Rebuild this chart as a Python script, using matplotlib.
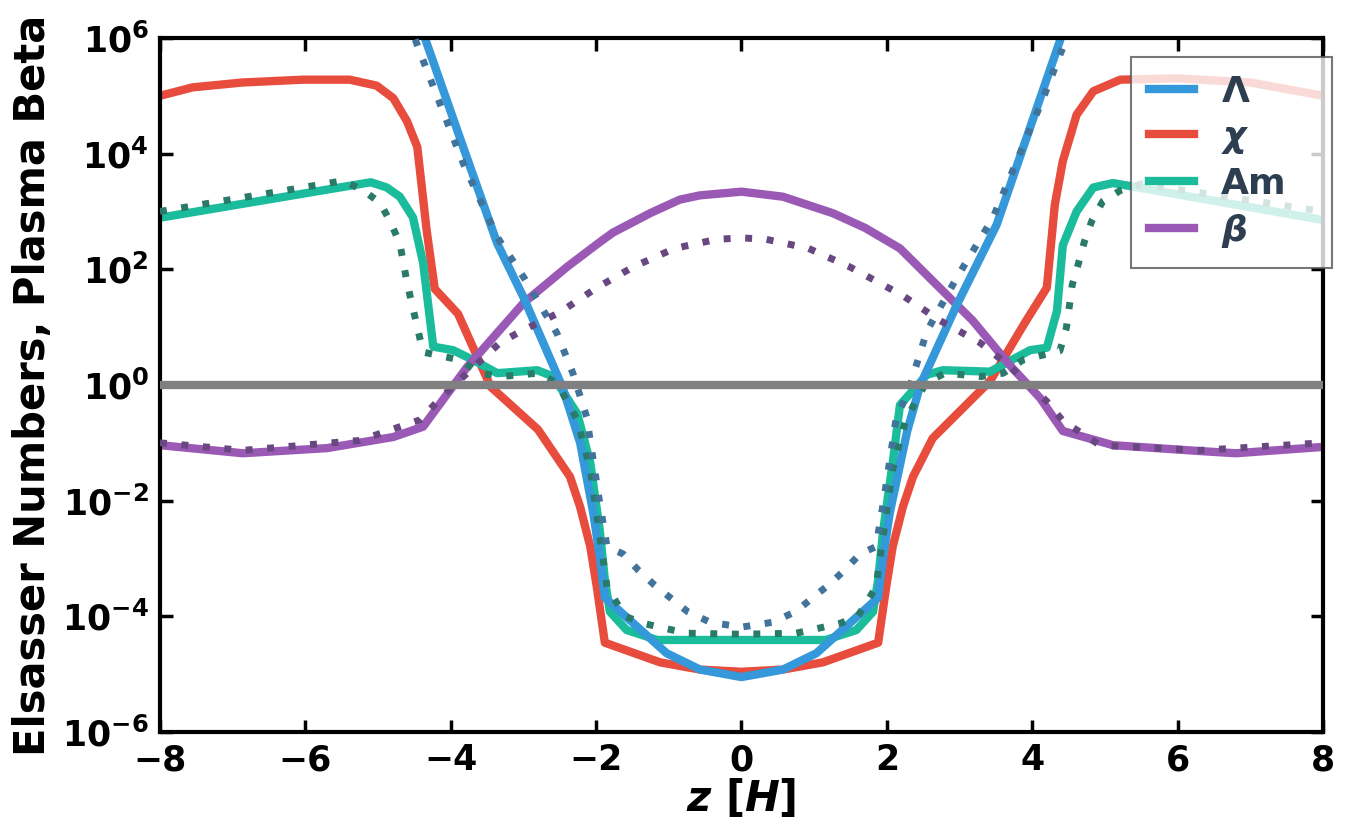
import numpy as np
import matplotlib
matplotlib.use("Agg")
import matplotlib.pyplot as plt
from matplotlib.ticker import FixedLocator, NullLocator

plt.rcParams['font.family'] = 'DejaVu Sans'
plt.rcParams['font.weight'] = 'bold'
plt.rcParams['mathtext.fontset'] = 'custom'
plt.rcParams['mathtext.rm'] = 'DejaVu Sans:bold'
plt.rcParams['mathtext.bf'] = 'DejaVu Sans:bold'
plt.rcParams['mathtext.it'] = 'DejaVu Sans:bold:italic'
plt.rcParams['mathtext.default'] = 'it'

# Lambda (Ohm) - solid and dotted
z_lam = [-4.6, -4.33, -3.78, -3.36, -3.0, -2.46, -2.22, -2.04, -1.95, -1.88, -1.03, -0.57, 0.0,
         0.57, 1.03, 1.88, 1.95, 2.04, 2.28, 2.46, 2.96, 3.51, 4.38, 4.6]
lam = [8e6, 8.1e5, 8.7e3, 2.8e2, 33, 0.9, 0.1, 6.2e-3, 1.1e-3, 2.1e-4, 2.3e-5, 1.2e-5, 8.9e-6,
       1.2e-5, 2.3e-5, 2.1e-4, 1.1e-3, 6.2e-3, 0.16, 1.0, 24, 5.9e2, 8.9e5, 8e6]
z_lam_d = [-4.7, -4.42, -3.83, -3.36, -3.0, -2.54, -2.32, -2.13, -2.04, -1.95, -1.85, -1.63, -1.42,
           -1.2, -0.74, -0.43, 0.0, 0.43, 0.74, 1.2, 1.42, 1.63, 1.85, 1.95, 2.04, 2.13, 2.28,
           2.55, 2.96, 3.46, 4.15, 4.38, 4.7]
lam_d = [5e6, 5.5e5, 6.9e3, 3.6e2, 74, 7.9, 1.6, 0.28, 0.05, 9.1e-3, 1.6e-3, 1.2e-3, 6.3e-4,
         3.5e-4, 1.2e-4, 7.9e-5, 6.5e-5, 7.9e-5, 1.2e-4, 3.5e-4, 6.3e-4, 1.2e-3, 1.6e-3, 9.1e-3,
         0.05, 0.28, 0.68, 8.5, 71, 7.8e2, 9.1e4, 5.1e5, 5e6]

# chi (Hall)
z_chi = [-8.0, -7.55, -6.86, -6.03, -5.39, -5.02, -4.79, -4.6, -4.46, -4.33, -4.22, -3.9, -3.45,
         -2.8, -2.54, -2.36, -2.22, -2.08, -1.99, -1.88, -1.12, -0.57, 0.0,
         0.57, 1.12, 1.88, 1.99, 2.08, 2.22, 2.36, 2.63, 3.42, 3.9, 4.2, 4.31, 4.42, 4.61, 4.84,
         5.21, 6.0, 7.0, 8.0]
chi = [1.0e5, 1.4e5, 1.7e5, 1.9e5, 1.9e5, 1.5e5, 9.1e4, 3.6e4, 1.3e4, 4.6e2, 46, 17, 0.93,
       0.17, 0.056, 0.026, 7.8e-3, 1.6e-3, 3.2e-4, 3.5e-5, 1.6e-5, 1.2e-5, 1.1e-5,
       1.2e-5, 1.6e-5, 3.5e-5, 3.2e-4, 1.6e-3, 7.8e-3, 0.026, 0.12, 1.17, 12, 48, 1.3e3, 7.4e3,
       4.7e4, 1.2e5, 1.9e5, 2.0e5, 1.7e5, 1.0e5]

# Am (ambipolar)
z_am = [-8.0, -5.1, -4.88, -4.7, -4.52, -4.38, -4.24, -3.97, -3.69, -3.36, -2.81, -2.59, -2.26,
        -2.08, -1.95, -1.88, -1.81, -1.58, -1.16, 0.0, 1.16, 1.58, 1.81, 1.88, 1.95, 2.08, 2.18,
        2.55, 2.77, 3.42, 3.97, 4.2, 4.34, 4.42, 4.61, 4.84, 5.11, 8.0]
am = [7.8e2, 3.2e3, 2.6e3, 1.8e3, 7.9e2, 1.3e2, 4.6, 4.0, 2.7, 1.6, 1.8, 1.4, 0.32,
      0.045, 3.1e-3, 4.3e-4, 1.2e-4, 5.8e-5, 3.9e-5, 3.9e-5, 3.9e-5, 5.8e-5, 1.2e-4, 4.3e-4,
      3.1e-3, 0.045, 0.45, 1.5, 1.8, 1.7, 4.0, 4.4, 19, 2.6e2, 1.0e3, 2.6e3, 3.1e3, 7.1e2]
z_am_d = [-8.0, -5.48, -5.2, -4.97, -4.83, -4.7, -4.6, -4.46, -4.38, -3.87, -3.6, -3.3, -2.8,
          -2.54, -2.26, -2.08, -1.95, -1.85, -1.6, -1.36, -1.08, -0.75, 0.0, 0.75, 1.08, 1.36,
          1.6, 1.85, 1.95, 2.08, 2.26, 2.54, 2.8, 3.3, 3.6, 3.87, 4.38, 4.47, 4.55, 4.63, 4.72,
          4.82, 4.97, 5.21, 5.5, 8.0]
am_d = [1.0e3, 3.4e3, 2.3e3, 1.4e3, 6.6e2, 2.8e2, 58, 10, 3.7, 2.7, 1.6, 1.4, 1.6,
        1.1, 0.25, 0.035, 2.5e-3, 3.2e-4, 1.0e-4, 7.6e-5, 6.3e-5, 5.1e-5, 4.9e-5, 5.1e-5, 6.3e-5,
        7.6e-5, 1.0e-4, 3.2e-4, 2.5e-3, 0.035, 0.25, 1.1, 1.6, 1.4, 1.6, 2.7, 3.9, 9.8, 54, 1.2e2,
        3.1e2, 6.9e2, 1.5e3, 2.3e3, 3.0e3, 1.0e3]

# beta
z_beta = [-8.0, -6.86, -5.7, -4.79, -4.38, -3.91, -3.78, -3.0, -2.4, -1.95, -1.77, -1.26, -0.85,
          -0.57, 0.0, 0.57, 1.26, 1.7, 2.18, 2.63, 3.18, 3.69, 4.11, 4.42, 5.11, 6.31, 6.8, 8.0]
beta = [0.091, 0.066, 0.081, 0.126, 0.19, 1.2, 2.0, 26, 1.1e2, 2.95e2, 4.3e2, 9.3e2, 1.6e3,
        1.9e3, 2.2e3, 1.8e3, 9.3e2, 5.2e2, 2.3e2, 63, 13, 2.2, 0.59, 0.16, 0.091, 0.072, 0.066,
        0.085]
z_beta_d = [-8.0, -6.86, -5.25, -4.42, -4.19, -3.95, -3.32, -3.05, -2.5, -1.99, -1.49, -0.92,
            -0.34, 0.0, 0.34, 0.92, 1.49, 2.22, 2.73, 3.28, 3.69, 4.2, 4.42, 4.93, 6.3, 8.0]
beta_d = [0.1, 0.074, 0.11, 0.25, 0.51, 1.0, 5.4, 8.3, 18, 48, 1.1e2, 2.3e2, 3.3e2, 3.5e2,
          3.3e2, 2.3e2, 1.1e2, 35, 13, 5.4, 2.1, 0.52, 0.24, 0.091, 0.074, 0.1]

xticks = [-8, -6, -4, -2, 0, 2, 4, 6, 8]
yticks = [1e-6, 1e-4, 1e-2, 1e0, 1e2, 1e4, 1e6]

c_blue, c_red, c_green, c_purple = '#3498db', '#e74c3c', '#1abc9c', '#9b59b6'
d_blue, d_green, d_purple = '#41739b', '#2a7a69', '#694882'

fig = plt.figure(figsize=(13.51, 8.38), dpi=100)
ax = fig.add_axes([0.1184, 0.1265, 0.8609, 0.8282])

lw = 6
dlw = 5
dots = (0, (1, 2.1))
ax.plot(z_chi, chi, color=c_red, lw=lw, label=r'$\chi$', zorder=2)
ax.plot(z_am, am, color=c_green, lw=lw, label='Am', zorder=2.1)
ax.plot(z_beta, beta, color=c_purple, lw=lw, label=r'$\beta$', zorder=2.2)
ax.plot(z_lam, lam, color=c_blue, lw=lw, label=r'$\Lambda$', zorder=2.3)
ax.plot(z_am_d, am_d, color=d_green, lw=dlw, ls=dots, zorder=3)
ax.plot(z_lam_d, lam_d, color=d_blue, lw=dlw, ls=dots, zorder=3.1)
ax.plot(z_beta_d, beta_d, color=d_purple, lw=dlw, ls=dots, zorder=3.2)
ax.axhline(1.0, color='#808080', lw=6, zorder=4)

ax.set_yscale('log')
ax.set_xlim(-8, 8)
ax.set_ylim(1e-6, 1e6)
ax.set_xticks(xticks)
ax.yaxis.set_major_locator(FixedLocator(yticks))
ax.yaxis.set_minor_locator(NullLocator())
ax.tick_params(direction='in', top=True, right=True, length=9, width=2.5,
               labelsize=25, pad=8)
for sp in ax.spines.values():
    sp.set_linewidth(3)

ax.set_xlabel(r'$z\ [H]$', fontsize=30, labelpad=0)
ax.set_ylabel('Elsasser Numbers, Plasma Beta', fontsize=30, fontweight='bold', labelpad=6)

h, l = ax.get_legend_handles_labels()
order = [3, 0, 1, 2]
leg = ax.legend([h[i] for i in order], [l[i] for i in order],
                loc='upper left', bbox_to_anchor=(0.837, 0.684, 0.1488, 0.248),
                bbox_transform=fig.transFigure, borderaxespad=0, mode='expand',
                fontsize=26, fancybox=False, framealpha=0.8,
                handlelength=1.25, handletextpad=0.75, labelspacing=0.3,
                borderpad=0.5)
leg.get_frame().set_edgecolor('#555555')
leg.get_frame().set_linewidth(1.5)
for t in leg.get_texts():
    t.set_color('#2c3e50')

fig.savefig('out.png', dpi=100)
